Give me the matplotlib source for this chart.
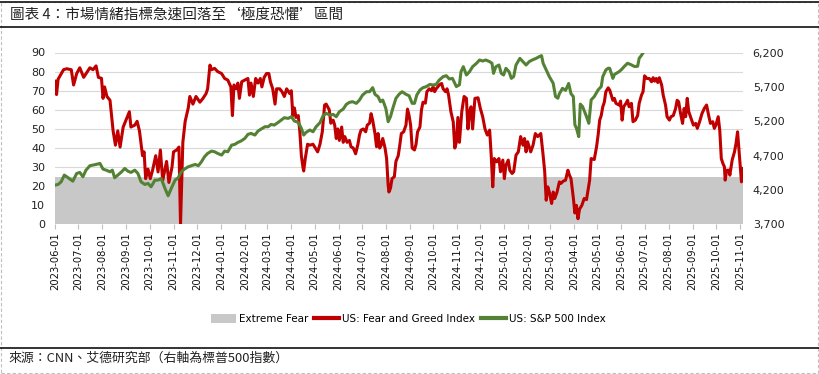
import matplotlib
matplotlib.use("Agg")
import matplotlib.pyplot as plt
import matplotlib.dates as mdates
from matplotlib.patches import Patch, Rectangle
from matplotlib.lines import Line2D
import pandas as pd

# CNN Fear & Greed index (left axis)
fg_dates = [
    "2023-06-01", "2023-06-03", "2023-06-05", "2023-06-12", "2023-06-16", "2023-06-22", "2023-06-25", "2023-06-29",
    "2023-07-03", "2023-07-08", "2023-07-12", "2023-07-16", "2023-07-20", "2023-07-24", "2023-07-27", "2023-07-31",
    "2023-08-02", "2023-08-04", "2023-08-07", "2023-08-11", "2023-08-15", "2023-08-18", "2023-08-21", "2023-08-24",
    "2023-08-28", "2023-08-31", "2023-09-05", "2023-09-07", "2023-09-12", "2023-09-15", "2023-09-18", "2023-09-22",
    "2023-09-24", "2023-09-26", "2023-09-29", "2023-10-02", "2023-10-05", "2023-10-09", "2023-10-12", "2023-10-15",
    "2023-10-18", "2023-10-23", "2023-10-26", "2023-10-30", "2023-11-01", "2023-11-05", "2023-11-08", "2023-11-10",
    "2023-11-13", "2023-11-16", "2023-11-20", "2023-11-22", "2023-11-26", "2023-11-30", "2023-12-05", "2023-12-09",
    "2023-12-13", "2023-12-15", "2023-12-18", "2023-12-20", "2023-12-24", "2023-12-28", "2024-01-02", "2024-01-06",
    "2024-01-10", "2024-01-14", "2024-01-16", "2024-01-18", "2024-01-21", "2024-01-23", "2024-01-25", "2024-01-28",
    "2024-02-01", "2024-02-05", "2024-02-07", "2024-02-09", "2024-02-12", "2024-02-15", "2024-02-18", "2024-02-21",
    "2024-02-23", "2024-02-26", "2024-02-29", "2024-03-03", "2024-03-05", "2024-03-08", "2024-03-11", "2024-03-13",
    "2024-03-17", "2024-03-20", "2024-03-23", "2024-03-26", "2024-03-30", "2024-04-01", "2024-04-03", "2024-04-05",
    "2024-04-07", "2024-04-10", "2024-04-12", "2024-04-14", "2024-04-16", "2024-04-17", "2024-04-19", "2024-04-22",
    "2024-04-25", "2024-04-29", "2024-05-02", "2024-05-05", "2024-05-08", "2024-05-11", "2024-05-14", "2024-05-16",
    "2024-05-20", "2024-05-22", "2024-05-25", "2024-05-27", "2024-05-29", "2024-05-31", "2024-06-02", "2024-06-05",
    "2024-06-07", "2024-06-09", "2024-06-12", "2024-06-15", "2024-06-17", "2024-06-20", "2024-06-23", "2024-06-26",
    "2024-06-28", "2024-06-30", "2024-07-03", "2024-07-06", "2024-07-08", "2024-07-11", "2024-07-13", "2024-07-15",
    "2024-07-18", "2024-07-20", "2024-07-22", "2024-07-24", "2024-07-26", "2024-07-28", "2024-07-31", "2024-08-02",
    "2024-08-04", "2024-08-05", "2024-08-07", "2024-08-09", "2024-08-12", "2024-08-14", "2024-08-17", "2024-08-19",
    "2024-08-21", "2024-08-24", "2024-08-27", "2024-08-29", "2024-08-31", "2024-09-02", "2024-09-04", "2024-09-07",
    "2024-09-09", "2024-09-11", "2024-09-14", "2024-09-16", "2024-09-18", "2024-09-21", "2024-09-23", "2024-09-26",
    "2024-09-29", "2024-10-01", "2024-10-03", "2024-10-05", "2024-10-09", "2024-10-12", "2024-10-14", "2024-10-17",
    "2024-10-19", "2024-10-21", "2024-10-24", "2024-10-27", "2024-10-29", "2024-10-31", "2024-11-02", "2024-11-04",
    "2024-11-07", "2024-11-10", "2024-11-13", "2024-11-15", "2024-11-17", "2024-11-19", "2024-11-21", "2024-11-24",
    "2024-11-28", "2024-12-01", "2024-12-04", "2024-12-07", "2024-12-10", "2024-12-13", "2024-12-15", "2024-12-17",
    "2024-12-19", "2024-12-22", "2024-12-25", "2024-12-27", "2024-12-30", "2025-01-01", "2025-01-03", "2025-01-06",
    "2025-01-08", "2025-01-11", "2025-01-13", "2025-01-16", "2025-01-19", "2025-01-22", "2025-01-25", "2025-01-27",
    "2025-01-29", "2025-01-31", "2025-02-04", "2025-02-07", "2025-02-10", "2025-02-13", "2025-02-17", "2025-02-20",
    "2025-02-22", "2025-02-24", "2025-02-26", "2025-02-28", "2025-03-03", "2025-03-05", "2025-03-07", "2025-03-10",
    "2025-03-13", "2025-03-15", "2025-03-18", "2025-03-21", "2025-03-24", "2025-03-26", "2025-03-28", "2025-03-31",
    "2025-04-02", "2025-04-04", "2025-04-06", "2025-04-08", "2025-04-11", "2025-04-14", "2025-04-17", "2025-04-21",
    "2025-04-23", "2025-04-27", "2025-04-30", "2025-05-02", "2025-05-04", "2025-05-06", "2025-05-08", "2025-05-10",
    "2025-05-12", "2025-05-15", "2025-05-17", "2025-05-19", "2025-05-21", "2025-05-23", "2025-05-25", "2025-05-29",
    "2025-05-31", "2025-06-02", "2025-06-04", "2025-06-07", "2025-06-09", "2025-06-11", "2025-06-14", "2025-06-16",
    "2025-06-19", "2025-06-22", "2025-06-24", "2025-06-27", "2025-06-29", "2025-07-01", "2025-07-04", "2025-07-07",
    "2025-07-10", "2025-07-12", "2025-07-14", "2025-07-16", "2025-07-18", "2025-07-20", "2025-07-23", "2025-07-25",
    "2025-07-28", "2025-07-30", "2025-08-02", "2025-08-04", "2025-08-07", "2025-08-10", "2025-08-12", "2025-08-14",
    "2025-08-16", "2025-08-19", "2025-08-21", "2025-08-23", "2025-08-25", "2025-08-27", "2025-08-30", "2025-09-02",
    "2025-09-05", "2025-09-07", "2025-09-10", "2025-09-13", "2025-09-16", "2025-09-19", "2025-09-22", "2025-09-24",
    "2025-09-27", "2025-09-29", "2025-10-01", "2025-10-04", "2025-10-06", "2025-10-08", "2025-10-10", "2025-10-12",
    "2025-10-13", "2025-10-15", "2025-10-18", "2025-10-19", "2025-10-22", "2025-10-25", "2025-10-27", "2025-10-29",
    "2025-11-01", "2025-11-03", "2025-11-05",
]
fg_values = [
    75, 68, 76, 81, 81.5, 81, 73, 79,
    82, 77, 79.5, 82, 81, 83, 77, 76.5,
    66, 72, 67, 65, 49, 41.5, 49, 40.5,
    51, 54, 59, 51, 52, 54, 49, 36,
    38, 24, 29, 24, 28.5, 36, 27.5, 39,
    23, 33, 22, 30, 38, 39, 40.5, 0,
    43, 54, 61, 67, 63, 67, 64, 66,
    68.5, 71, 83.4, 81, 81.7, 80, 79, 76.4,
    75.6, 72, 57, 73, 71, 74, 66, 74.7,
    75.6, 76.4, 67.7, 74, 67, 76.4, 74, 76.4,
    72, 77, 79, 79, 74.7, 71, 63, 71,
    71, 69.5, 67, 71, 68.5, 70, 57, 61,
    56, 57, 48.5, 36, 30, 28, 34.5, 42,
    41.5, 42, 40, 38, 42, 48.5, 62.5, 63,
    60, 53, 54.6, 52, 45, 50, 44, 51,
    43, 46, 43, 44, 40.7, 40, 37, 42,
    46.8, 49.4, 50, 48.5, 52, 53, 58, 54.6,
    47.6, 40.7, 47.6, 40, 41.5, 45, 40, 34.5,
    20.6, 17, 19, 24, 25, 33, 36, 41.5,
    47.6, 48.5, 52, 60.4, 57, 52, 40, 39,
    42, 48.5, 51, 60, 64, 63.5, 69.5, 71,
    70, 72, 69.5, 71, 73, 73.8, 71, 69.5,
    71, 67.7, 59, 53.7, 40, 43, 56, 43,
    59, 67, 66, 50, 59, 61.6, 50, 66,
    66.3, 60.7, 56.4, 50, 46.8, 49.4, 36.3, 19.7,
    34.5, 32.8, 34.5, 27.6, 33.7, 24, 31, 33.7,
    28.4, 26.7, 27.6, 36.3, 38, 46, 41.5, 45,
    38, 43.3, 38, 41.5, 47.6, 46, 47.6, 36.3,
    28, 12.7, 19.7, 17, 11, 17, 13.6, 17,
    22.3, 21.5, 22.7, 23.2, 28.4, 25.8, 24, 14,
    6, 10, 3, 8, 10, 13.6, 13, 23,
    34.5, 34, 40.7, 46.8, 54.6, 57, 61.6, 64,
    69.5, 71.5, 70.3, 67.7, 65, 66, 63.4, 62.5,
    64.6, 54.6, 61.6, 63.4, 65, 61.6, 63.4, 53.8,
    54.6, 57, 63.4, 67.7, 69.5, 77.8, 76.4, 76.4,
    74.7, 76.8, 75, 76.4, 74.3, 76.8, 73, 67.7,
    62.5, 56.4, 54.6, 56.4, 57, 60.7, 65, 64.2,
    59, 52.9, 60.7, 56.4, 66, 59, 55.5, 52,
    52.9, 50.3, 53.8, 58, 60.7, 62.5, 56.4, 52.9,
    53.8, 50.3, 52, 56.4, 49.4, 34.5, 32, 30.2,
    23.2, 28.4, 28.4, 25.8, 33.7, 38, 42.4, 48.5,
    32.8, 22.3, 29.3,
]

# S&P 500 index (right axis)
spx_dates = [
    "2023-06-01", "2023-06-05", "2023-06-09", "2023-06-13", "2023-06-18", "2023-06-24", "2023-06-29", "2023-07-03",
    "2023-07-07", "2023-07-11", "2023-07-16", "2023-07-20", "2023-07-24", "2023-07-29", "2023-08-02", "2023-08-06",
    "2023-08-11", "2023-08-14", "2023-08-17", "2023-08-21", "2023-08-26", "2023-08-30", "2023-09-03", "2023-09-07",
    "2023-09-12", "2023-09-16", "2023-09-20", "2023-09-25", "2023-09-29", "2023-10-03", "2023-10-08", "2023-10-12",
    "2023-10-16", "2023-10-21", "2023-10-25", "2023-10-29", "2023-11-03", "2023-11-07", "2023-11-11", "2023-11-15",
    "2023-11-20", "2023-11-24", "2023-11-29", "2023-12-03", "2023-12-07", "2023-12-11", "2023-12-15", "2023-12-20",
    "2023-12-24", "2023-12-28", "2024-01-02", "2024-01-06", "2024-01-10", "2024-01-15", "2024-01-19", "2024-01-23",
    "2024-01-27", "2024-02-01", "2024-02-05", "2024-02-09", "2024-02-14", "2024-02-18", "2024-02-22", "2024-02-27",
    "2024-03-02", "2024-03-06", "2024-03-10", "2024-03-15", "2024-03-19", "2024-03-23", "2024-03-28", "2024-04-01",
    "2024-04-05", "2024-04-10", "2024-04-14", "2024-04-17", "2024-04-20", "2024-04-25", "2024-04-29", "2024-05-03",
    "2024-05-08", "2024-05-12", "2024-05-16", "2024-05-21", "2024-05-25", "2024-05-29", "2024-06-02", "2024-06-07",
    "2024-06-11", "2024-06-15", "2024-06-19", "2024-06-24", "2024-06-28", "2024-07-02", "2024-07-07", "2024-07-11",
    "2024-07-15", "2024-07-18", "2024-07-22", "2024-07-25", "2024-07-28", "2024-08-01", "2024-08-04", "2024-08-07",
    "2024-08-10", "2024-08-14", "2024-08-18", "2024-08-22", "2024-08-27", "2024-08-31", "2024-09-04", "2024-09-07",
    "2024-09-10", "2024-09-14", "2024-09-18", "2024-09-22", "2024-09-27", "2024-10-01", "2024-10-05", "2024-10-09",
    "2024-10-14", "2024-10-18", "2024-10-22", "2024-10-26", "2024-10-31", "2024-11-04", "2024-11-06", "2024-11-09",
    "2024-11-13", "2024-11-17", "2024-11-21", "2024-11-26", "2024-11-30", "2024-12-04", "2024-12-08", "2024-12-13",
    "2024-12-16", "2024-12-18", "2024-12-21", "2024-12-25", "2024-12-28", "2024-12-31", "2025-01-03", "2025-01-07",
    "2025-01-10", "2025-01-13", "2025-01-16", "2025-01-21", "2025-01-25", "2025-01-29", "2025-02-02", "2025-02-06",
    "2025-02-11", "2025-02-15", "2025-02-18", "2025-02-20", "2025-02-24", "2025-02-28", "2025-03-05", "2025-03-08",
    "2025-03-11", "2025-03-13", "2025-03-17", "2025-03-21", "2025-03-25", "2025-03-28", "2025-03-31", "2025-04-02",
    "2025-04-04", "2025-04-07", "2025-04-09", "2025-04-12", "2025-04-17", "2025-04-20", "2025-04-23", "2025-04-27",
    "2025-05-02", "2025-05-06", "2025-05-08", "2025-05-12", "2025-05-15", "2025-05-17", "2025-05-21", "2025-05-23",
    "2025-05-29", "2025-06-01", "2025-06-05", "2025-06-09", "2025-06-14", "2025-06-18", "2025-06-22", "2025-06-24",
    "2025-06-27", "2025-06-29", "2025-07-03",
]
spx_values = [
    4272, 4282, 4321, 4418, 4379, 4330, 4442, 4457,
    4394, 4490, 4554, 4563, 4573, 4588, 4505, 4490,
    4466, 4490, 4379, 4418, 4466, 4515, 4476, 4457,
    4490, 4442, 4321, 4282, 4297, 4248, 4345, 4345,
    4369, 4224, 4117, 4224, 4345, 4379, 4466, 4505,
    4539, 4554, 4573, 4554, 4612, 4685, 4733, 4767,
    4757, 4733, 4709, 4767, 4757, 4854, 4864, 4893,
    4913, 4951, 5010, 5024, 5000, 5058, 5087, 5121,
    5121, 5155, 5145, 5184, 5218, 5252, 5242, 5267,
    5204, 5184, 5097, 5000, 5039, 5073, 5048, 5121,
    5180, 5281, 5315, 5291, 5300, 5267, 5339, 5378,
    5446, 5475, 5485, 5461, 5509, 5582, 5630, 5630,
    5689, 5592, 5558, 5485, 5509, 5388, 5194, 5267,
    5388, 5533, 5592, 5630, 5592, 5572, 5461, 5461,
    5582, 5655, 5689, 5703, 5737, 5727, 5737, 5800,
    5849, 5863, 5815, 5824, 5705, 5730, 5920, 5994,
    5873, 5921, 5994, 6043, 6091, 6076, 6091, 6067,
    6043, 5897, 5994, 6018, 5897, 5873, 5970, 5921,
    5824, 5850, 6018, 6115, 6067, 6018, 6067, 6091,
    6115, 6140, 6154, 6044, 5947, 5850, 5753, 5560,
    5535, 5600, 5679, 5650, 5750, 5600, 5560, 5150,
    5100, 4977, 5450, 5413, 5268, 5171, 5511, 5559,
    5656, 5705, 5849, 5946, 5972, 5970, 5824, 5880,
    5921, 5950, 6000, 6044, 6020, 5996, 6000, 6115,
    6160, 6195, 6280,
]

extreme_fear_level = 25
left_ticks = [0, 10, 20, 30, 40, 50, 60, 70, 80, 90]
right_ticks = [3700, 4200, 4700, 5200, 5700, 6200]

title = "圖表 4：市場情緒指標急速回落至‘極度恐懼’區間"
source = "來源：CNN、艾德研究部（右軸為標普500指數）"

RED = "#C00000"
GREEN = "#548235"
GREY = "#C8C8C8"
CJK = ["Noto Sans CJK TC", "DejaVu Sans"]

fg_x = pd.to_datetime(fg_dates)
spx_x = pd.to_datetime(spx_dates)

fig = plt.figure(figsize=(8.2, 3.74), dpi=100)
ax = fig.add_axes([55 / 820, 1 - 224.5 / 374, 688 / 820, 172 / 374])
ax2 = ax.twinx()

ax.set_axisbelow(True)
ax.grid(axis="y", color="#D9D9D9", linewidth=0.8, zorder=0)
ax.fill_between(fg_x, 0, [extreme_fear_level] * len(fg_x), color=GREY, linewidth=0, zorder=1)
ax.plot(fg_x, fg_values, color=RED, linewidth=2.2, zorder=3, solid_joinstyle="round")
ax2.plot(spx_x, spx_values, color=GREEN, linewidth=2.2, solid_joinstyle="round")

ax.set_ylim(0, 90)
ax2.set_ylim(3700, 6200)
ax.set_xlim(fg_x[0], fg_x[-1])
ax.set_yticks(left_ticks)
ax2.set_yticks(right_ticks)
ax2.set_yticklabels([f"{v:,}" for v in right_ticks])

ax.xaxis.set_major_locator(mdates.MonthLocator())
ax.xaxis.set_major_formatter(mdates.DateFormatter("%Y-%m-%d"))
for lbl in ax.get_xticklabels():
    lbl.set_rotation(90)

for a in (ax, ax2):
    for s in a.spines.values():
        s.set_visible(False)
ax.tick_params(axis="y", length=0, pad=7, labelsize=8, labelcolor="#222222")
ax2.tick_params(axis="y", length=0, pad=7, labelsize=8, labelcolor="#222222")
ax.tick_params(axis="x", length=3.5, width=0.8, color="#BFBFBF", pad=2, labelsize=7.2,
               labelcolor="#111111")

# legend
handles = [
    Patch(facecolor=GREY, edgecolor="none"),
    Line2D([], [], color=RED, linewidth=3),
    Line2D([], [], color=GREEN, linewidth=3),
]
labels = ["Extreme Fear", "US: Fear and Greed Index", "US: S&P 500 Index"]
fig.legend(handles, labels, loc="center", bbox_to_anchor=(0.498, 0.146), ncol=3, frameon=False,
           fontsize=7.5, handlelength=2.4, handleheight=0.9, handletextpad=0.25, columnspacing=0.6)

# title, source, frame lines
fig.text(10 / 820, 1 - 15 / 374, title, family=CJK, fontsize=10.5, va="center", ha="left", color="#222222")
fig.text(8 / 820, 1 - 358 / 374, source, family=CJK, fontsize=9.3, va="center", ha="left", color="#222222")
for y in (1.5, 27, 348):
    fig.add_artist(Line2D([0, 1], [1 - y / 374, 1 - y / 374], transform=fig.transFigure,
                          color="#111111", linewidth=1.2))
fig.add_artist(Rectangle((0.001, 0.004), 0.996, 0.99, transform=fig.transFigure, fill=False,
                         edgecolor="#BFBFBF", linewidth=0.8, linestyle=(0, (3, 2))))

fig.savefig("out.png", dpi=100)
